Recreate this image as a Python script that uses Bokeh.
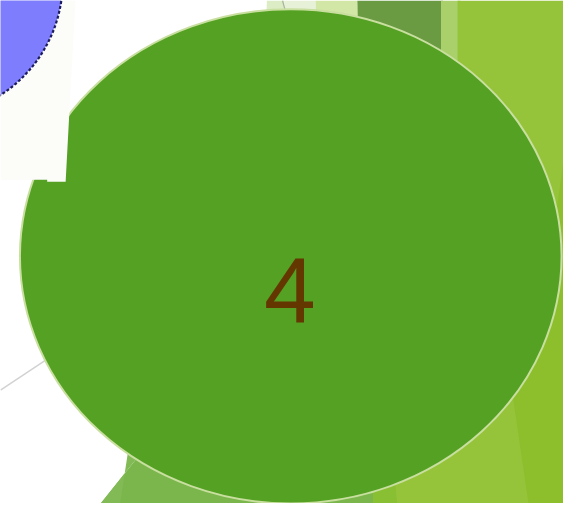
from bokeh.plotting import figure
from bokeh.models import Range1d
from bokeh.core.properties import value
from bokeh.embed import file_html
from bokeh.resources import INLINE

# --- data (reference pixel coordinates, y downward) ---
bg_names = ["pale_left", "very_pale", "light", "dark_muted", "light_wedge",
            "yellow", "yellow_dark_edge", "muted_bottom", "muted_bottom_light",
            "strip_bottom"]
bg_xs = [
    [274, 292, 293, 272],
    [292, 324, 326, 293],
    [324, 367, 370, 326],
    [367, 455, 453, 370],
    [453, 473, 490, 453],
    [470, 579, 579, 385, 385, 470],
    [579, 579, 543, 527, 560],
    [150, 103, 385, 385],
    [150, 103, 123, 132],
    [383, 383, 408, 400],
]
bg_ys = [
    [0, 0, 50, 50],
    [0, 0, 50, 50],
    [0, 0, 60, 60],
    [0, 0, 110, 110],
    [0, 0, 130, 130],
    [0, 0, 519, 519, 300, 300],
    [165, 519, 519, 410, 300],
    [460, 519, 519, 460],
    [460, 519, 519, 460],
    [440, 519, 519, 440],
]
bg_colors = ["#dcedc5", "#e6f1d7", "#d2e6a5", "#6a9a42", "#a9d06b",
             "#95c43a", "#8dbf2c", "#7bb64d", "#82ba55", "#89bf33"]

gray_line_x = [0, 60]
gray_line_y = [402, 362]
top_line_x = [290, 293]
top_line_y = [0, 11]

main_cx, main_cy, main_w, main_h = [298.5], [264], [557], [510]
rect_xs = [[0, 77, 67, 48, 48, 0]]
rect_ys = [[0, 0, 187, 187, 185, 185]]
blue_cx, blue_cy, blue_d = [-76], [-20], [280]

label_x, label_y, label_text = [297.5], [299], ["4"]

p = figure(width=563, height=503, x_range=Range1d(0, 579), y_range=Range1d(519, 0),
           output_backend="svg", toolbar_location=None, min_border=0,
           x_axis_type=None, y_axis_type=None)
p.grid.visible = False
p.outline_line_color = None
p.background_fill_color = "white"
p.border_fill_color = "white"

p.patches(bg_xs, bg_ys, fill_color=bg_colors, line_color=None)
p.line(top_line_x, top_line_y, line_color="#aab3a0", line_width=1.2)
p.line(gray_line_x, gray_line_y, line_color="#d2d2d2", line_width=1.5)

p.ellipse(x=main_cx, y=main_cy, width=main_w, height=main_h,
          fill_color="#54a123", line_color="#c8df9f", line_width=2)

p.patches(rect_xs, rect_ys, fill_color="#fcfcf9", line_color=None)
p.ellipse(x=blue_cx, y=blue_cy, width=blue_d, height=blue_d,
          fill_color="#7d7dfd", line_color="#1c1c5c", line_width=2.2, line_dash="3 2")

p.text(x=label_x, y=label_y, text=label_text, text_font=value("Liberation Sans"),
       text_font_size="93px", text_color="#653700", text_align="center",
       text_baseline="alphabetic")

open("out.html", "w").write(file_html(p, INLINE))
